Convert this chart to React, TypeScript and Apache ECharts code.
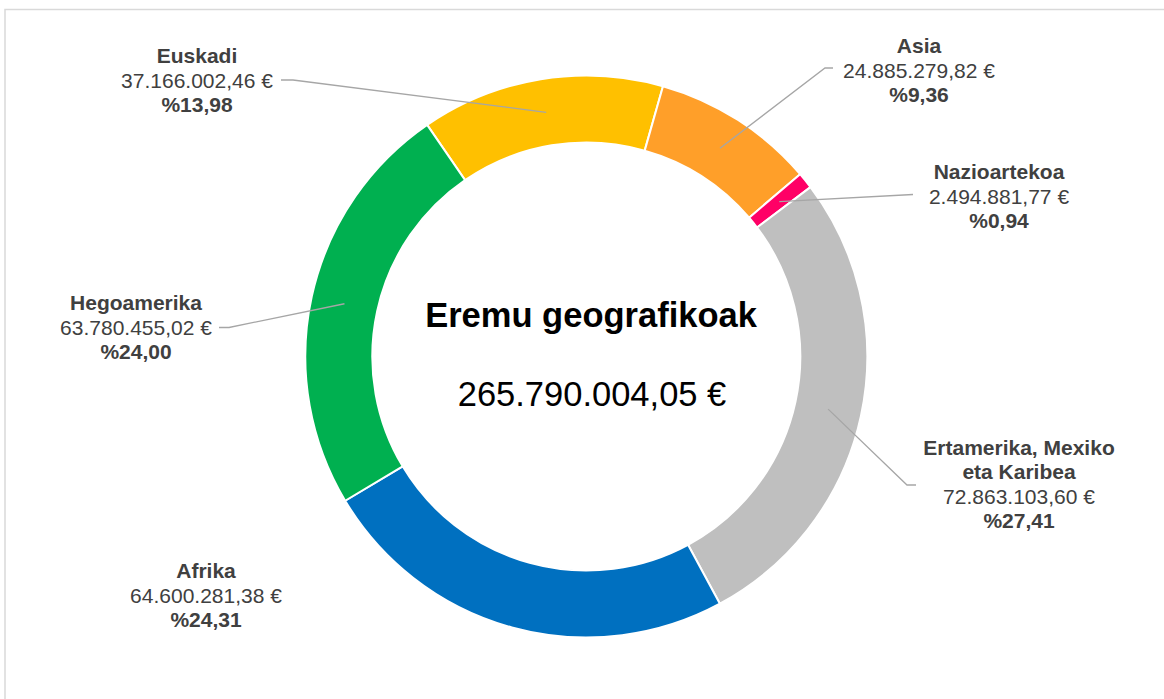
import React, { useEffect, useRef } from "react";
import * as echarts from "echarts";

const categories = [
  "Euskadi",
  "Asia",
  "Nazioartekoa",
  "Ertamerika, Mexiko\neta Karibea",
  "Afrika",
  "Hegoamerika",
];
const values = [37166002.46, 24885279.82, 2494881.77, 72863103.6, 64600281.38, 63780455.02];
const colors = ["#FFC000", "#FF9F29", "#FF0066", "#BFBFBF", "#0070C0", "#00B050"];
const centerTitle = "Eremu geografikoak";

// label block centres (layout positions)
const labelCenters: number[][] = [
  [197, 80],
  [919, 70],
  [999, 196],
  [1019, 484],
  [206, 595],
  [136, 327],
];
// leader line tails (layout positions); null = no leader line
const leaderTails: (number[][] | null)[] = [
  [[293, 80], [281, 80]],
  [[825, 68], [833, 68]],
  [[913, 194.5]],
  [[907, 485], [916, 485]],
  null,
  [[229, 327.5], [219, 327.5]],
];

const FONT = "'Liberation Sans', Arial, sans-serif";

function fmt(v: number): string {
  const [i, d] = v.toFixed(2).split(".");
  return i.replace(/\B(?=(\d{3})+(?!\d))/g, ".") + "," + d;
}

export default function App() {
  const ref = useRef<HTMLDivElement>(null);
  useEffect(() => {
    if (!ref.current) return;
    const chart = echarts.init(ref.current, null, { renderer: "svg" });
    const total = values.reduce((a, b) => a + b, 0);
    const cx = 586.3;
    const cy = 356.5;

    const baseGraphic: any[] = [
      {
        id: "border",
        type: "rect",
        shape: { x: 5, y: 9.5, width: 1200, height: 720 },
        style: { fill: "none", stroke: "#D9D9D9", lineWidth: 1.5 },
        z: 0,
      },
      {
        id: "title",
        type: "text",
        x: 591,
        y: 315,
        style: {
          text: centerTitle,
          align: "center",
          verticalAlign: "middle",
          font: `bold 34.5px ${FONT}`,
          fill: "#000000",
        },
      },
      {
        id: "total",
        type: "text",
        x: 592,
        y: 394,
        style: {
          text: fmt(total) + " €",
          align: "center",
          verticalAlign: "middle",
          font: `34.5px ${FONT}`,
          fill: "#000000",
        },
      },
    ];

    const makeOption = (extra: any[]) => ({
      animation: false,
      backgroundColor: "#ffffff",
      graphic: { elements: [...baseGraphic, ...extra] },
      series: [
        {
          type: "pie",
          center: [cx, cy],
          radius: [214, 281],
          startAngle: 124.5,
          clockwise: true,
          avoidLabelOverlap: false,
          silent: true,
          itemStyle: { borderColor: "#ffffff", borderWidth: 2 },
          label: {
            show: true,
            position: "outside",
            color: "#404040",
            fontFamily: FONT,
            formatter: (p: any) => {
              const pct = ((p.value / total) * 100).toFixed(2).replace(".", ",");
              return `{n|${p.name}}\n{v|${fmt(p.value)} €}\n{p|%${pct}}`;
            },
            rich: {
              n: { fontSize: 21, fontWeight: "bold", lineHeight: 24.5, color: "#404040", fontFamily: FONT },
              v: { fontSize: 21, lineHeight: 24.5, color: "#404040", fontFamily: FONT },
              p: { fontSize: 21, fontWeight: "bold", lineHeight: 24.5, color: "#404040", fontFamily: FONT },
            },
          },
          labelLine: { show: false },
          labelLayout: (params: any) => {
            const c = labelCenters[params.dataIndex];
            return { x: c[0], y: c[1], align: "center", verticalAlign: "middle" };
          },
          data: categories.map((name, i) => ({
            name,
            value: values[i],
            itemStyle: { color: colors[i] },
          })),
        },
      ],
    });

    chart.setOption(makeOption([]));

    const lines: any[] = [];
    try {
      const data = (chart as any).getModel().getSeriesByIndex(0).getData();
      for (let i = 0; i < categories.length; i++) {
        const tail = leaderTails[i];
        if (!tail) continue;
        const l = data.getItemLayout(i);
        const mid = (l.startAngle + l.endAngle) / 2;
        const rr = l.r0 + (l.r - l.r0) * 0.5;
        const start = [l.cx + rr * Math.cos(mid), l.cy + rr * Math.sin(mid)];
        lines.push({
          id: "leader" + i,
          type: "polyline",
          shape: { points: [start, ...tail] },
          style: { stroke: "#A6A6A6", lineWidth: 1.3, fill: "none" },
          z: 10,
          silent: true,
        });
      }
    } catch (e) {
      // ignore
    }
    chart.setOption(makeOption(lines), { notMerge: true });

    return () => chart.dispose();
  }, []);

  return (
    <div
      ref={ref}
      style={{ position: "absolute", left: 0, top: 0, width: 1164, height: 699, background: "#fff" }}
    />
  );
}
